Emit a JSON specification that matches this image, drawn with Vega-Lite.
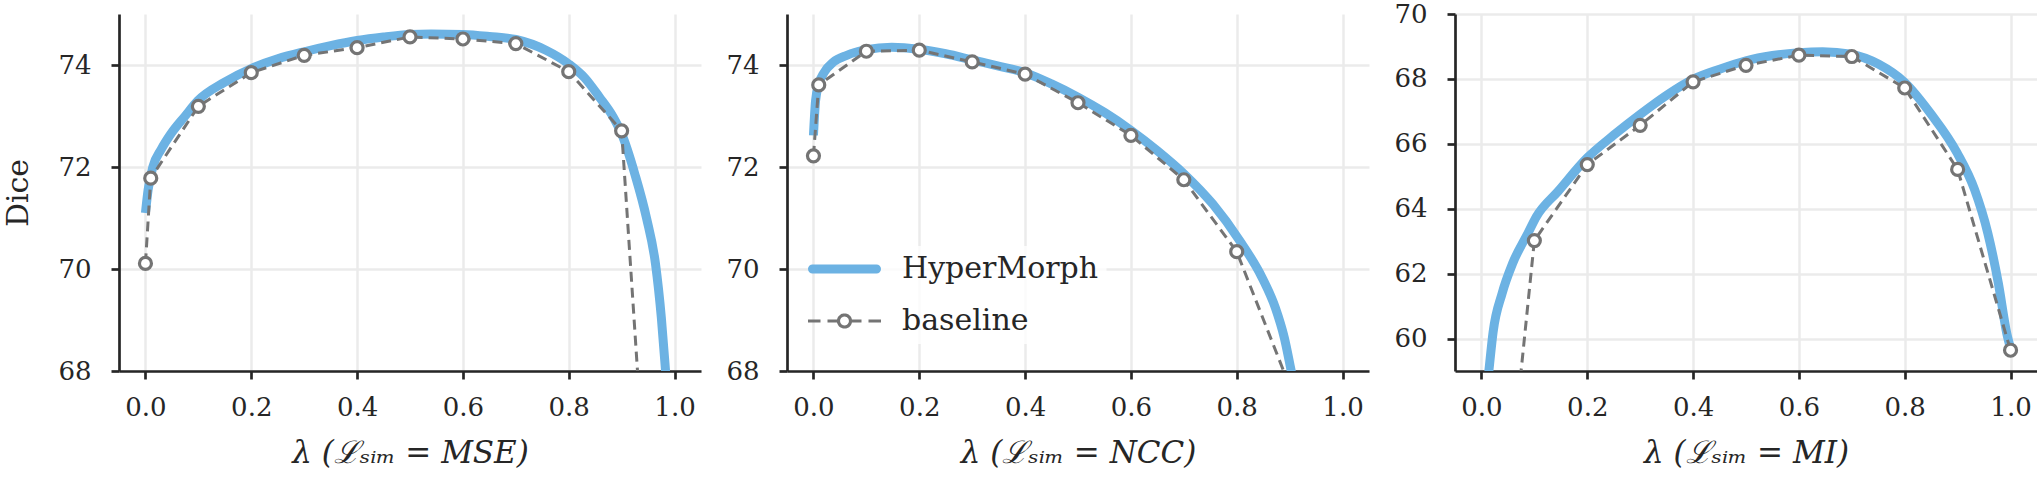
{
  "$schema": "https://vega.github.io/schema/vega-lite/v6.json",
  "background": "white",
  "padding": {"left": 3, "top": 1, "right": 0, "bottom": 0},
  "bounds": "flush",
  "spacing": 86,
  "config": {
    "view": {"stroke": null},
    "font": "DejaVu Serif",
    "axis": {
      "labelFont": "DejaVu Serif", "labelFontSize": 26, "labelColor": "#262626",
      "titleFont": "DejaVu Serif", "titleFontSize": 28, "titleColor": "#262626", "titleFontWeight": "normal",
      "domainColor": "#262626", "domainWidth": 2.7,
      "tickColor": "#262626", "tickWidth": 2.7, "tickSize": 8,
      "gridColor": "#ebebeb", "gridWidth": 2.5
    },
    "axisX": {"labelPadding": 15.5, "titlePadding": 18, "titleFontStyle": "italic", "titleFontSize": 31},
    "axisY": {"labelPadding": 20, "titlePadding": 24, "titleFontSize": 30}
  },
  "resolve": {"scale": {"color": "independent"}, "legend": {"color": "independent"}},
  "datasets": {
    "mse_hm": [
      {"lambda": 0.0, "dice": 71.1, "series": "HyperMorph"},
      {"lambda": 0.005, "dice": 71.55, "series": "HyperMorph"},
      {"lambda": 0.014, "dice": 72.0, "series": "HyperMorph"},
      {"lambda": 0.03, "dice": 72.35, "series": "HyperMorph"},
      {"lambda": 0.048, "dice": 72.65, "series": "HyperMorph"},
      {"lambda": 0.075, "dice": 73.0, "series": "HyperMorph"},
      {"lambda": 0.099, "dice": 73.3, "series": "HyperMorph"},
      {"lambda": 0.149, "dice": 73.66, "series": "HyperMorph"},
      {"lambda": 0.2, "dice": 73.93, "series": "HyperMorph"},
      {"lambda": 0.25, "dice": 74.12, "series": "HyperMorph"},
      {"lambda": 0.3, "dice": 74.26, "series": "HyperMorph"},
      {"lambda": 0.35, "dice": 74.38, "series": "HyperMorph"},
      {"lambda": 0.4, "dice": 74.48, "series": "HyperMorph"},
      {"lambda": 0.45, "dice": 74.55, "series": "HyperMorph"},
      {"lambda": 0.5, "dice": 74.6, "series": "HyperMorph"},
      {"lambda": 0.54, "dice": 74.61, "series": "HyperMorph"},
      {"lambda": 0.6, "dice": 74.6, "series": "HyperMorph"},
      {"lambda": 0.65, "dice": 74.56, "series": "HyperMorph"},
      {"lambda": 0.7, "dice": 74.5, "series": "HyperMorph"},
      {"lambda": 0.757, "dice": 74.29, "series": "HyperMorph"},
      {"lambda": 0.8, "dice": 74.02, "series": "HyperMorph"},
      {"lambda": 0.83, "dice": 73.75, "series": "HyperMorph"},
      {"lambda": 0.858, "dice": 73.37, "series": "HyperMorph"},
      {"lambda": 0.884, "dice": 72.98, "series": "HyperMorph"},
      {"lambda": 0.9, "dice": 72.65, "series": "HyperMorph"},
      {"lambda": 0.925, "dice": 71.86, "series": "HyperMorph"},
      {"lambda": 0.947, "dice": 71.0, "series": "HyperMorph"},
      {"lambda": 0.964, "dice": 70.1, "series": "HyperMorph"},
      {"lambda": 0.975, "dice": 69.05, "series": "HyperMorph"},
      {"lambda": 0.983, "dice": 68.0, "series": "HyperMorph"},
      {"lambda": 1.0, "dice": 65.5, "series": "HyperMorph"}
    ],
    "mse_bl": [
      {"lambda": 0.0, "dice": 70.11, "series": "baseline"},
      {"lambda": 0.01, "dice": 71.78, "series": "baseline"},
      {"lambda": 0.1, "dice": 73.19, "series": "baseline"},
      {"lambda": 0.2, "dice": 73.85, "series": "baseline"},
      {"lambda": 0.3, "dice": 74.19, "series": "baseline"},
      {"lambda": 0.4, "dice": 74.34, "series": "baseline"},
      {"lambda": 0.5, "dice": 74.55, "series": "baseline"},
      {"lambda": 0.6, "dice": 74.51, "series": "baseline"},
      {"lambda": 0.7, "dice": 74.42, "series": "baseline"},
      {"lambda": 0.8, "dice": 73.87, "series": "baseline"},
      {"lambda": 0.9, "dice": 72.71, "series": "baseline"},
      {"lambda": 1.0, "dice": 57.0, "series": "baseline"}
    ],
    "ncc_hm": [
      {"lambda": 0.0, "dice": 72.62, "series": "HyperMorph"},
      {"lambda": 0.004, "dice": 73.3, "series": "HyperMorph"},
      {"lambda": 0.01, "dice": 73.62, "series": "HyperMorph"},
      {"lambda": 0.02, "dice": 73.85, "series": "HyperMorph"},
      {"lambda": 0.038, "dice": 74.06, "series": "HyperMorph"},
      {"lambda": 0.063, "dice": 74.19, "series": "HyperMorph"},
      {"lambda": 0.1, "dice": 74.3, "series": "HyperMorph"},
      {"lambda": 0.148, "dice": 74.35, "series": "HyperMorph"},
      {"lambda": 0.2, "dice": 74.31, "series": "HyperMorph"},
      {"lambda": 0.25, "dice": 74.22, "series": "HyperMorph"},
      {"lambda": 0.3, "dice": 74.1, "series": "HyperMorph"},
      {"lambda": 0.35, "dice": 73.98, "series": "HyperMorph"},
      {"lambda": 0.4, "dice": 73.85, "series": "HyperMorph"},
      {"lambda": 0.45, "dice": 73.63, "series": "HyperMorph"},
      {"lambda": 0.5, "dice": 73.37, "series": "HyperMorph"},
      {"lambda": 0.55, "dice": 73.07, "series": "HyperMorph"},
      {"lambda": 0.6, "dice": 72.72, "series": "HyperMorph"},
      {"lambda": 0.65, "dice": 72.32, "series": "HyperMorph"},
      {"lambda": 0.7, "dice": 71.87, "series": "HyperMorph"},
      {"lambda": 0.755, "dice": 71.27, "series": "HyperMorph"},
      {"lambda": 0.806, "dice": 70.55, "series": "HyperMorph"},
      {"lambda": 0.848, "dice": 69.83, "series": "HyperMorph"},
      {"lambda": 0.873, "dice": 69.24, "series": "HyperMorph"},
      {"lambda": 0.89, "dice": 68.65, "series": "HyperMorph"},
      {"lambda": 0.903, "dice": 68.0, "series": "HyperMorph"},
      {"lambda": 0.95, "dice": 65.5, "series": "HyperMorph"},
      {"lambda": 1.0, "dice": 62.0, "series": "HyperMorph"}
    ],
    "ncc_bl": [
      {"lambda": 0.0, "dice": 72.22, "series": "baseline"},
      {"lambda": 0.01, "dice": 73.61, "series": "baseline"},
      {"lambda": 0.1, "dice": 74.27, "series": "baseline"},
      {"lambda": 0.2, "dice": 74.29, "series": "baseline"},
      {"lambda": 0.3, "dice": 74.06, "series": "baseline"},
      {"lambda": 0.4, "dice": 73.82, "series": "baseline"},
      {"lambda": 0.5, "dice": 73.26, "series": "baseline"},
      {"lambda": 0.6, "dice": 72.62, "series": "baseline"},
      {"lambda": 0.7, "dice": 71.75, "series": "baseline"},
      {"lambda": 0.8, "dice": 70.34, "series": "baseline"},
      {"lambda": 0.9, "dice": 67.7, "series": "baseline"}
    ],
    "mi_hm": [
      {"lambda": 0.0, "dice": 56.8, "series": "HyperMorph"},
      {"lambda": 0.014, "dice": 59.0, "series": "HyperMorph"},
      {"lambda": 0.022, "dice": 60.2, "series": "HyperMorph"},
      {"lambda": 0.039, "dice": 61.39, "series": "HyperMorph"},
      {"lambda": 0.059, "dice": 62.32, "series": "HyperMorph"},
      {"lambda": 0.088, "dice": 63.25, "series": "HyperMorph"},
      {"lambda": 0.104, "dice": 63.76, "series": "HyperMorph"},
      {"lambda": 0.145, "dice": 64.54, "series": "HyperMorph"},
      {"lambda": 0.2, "dice": 65.57, "series": "HyperMorph"},
      {"lambda": 0.25, "dice": 66.27, "series": "HyperMorph"},
      {"lambda": 0.3, "dice": 66.91, "series": "HyperMorph"},
      {"lambda": 0.35, "dice": 67.5, "series": "HyperMorph"},
      {"lambda": 0.4, "dice": 67.99, "series": "HyperMorph"},
      {"lambda": 0.45, "dice": 68.3, "series": "HyperMorph"},
      {"lambda": 0.5, "dice": 68.56, "series": "HyperMorph"},
      {"lambda": 0.55, "dice": 68.72, "series": "HyperMorph"},
      {"lambda": 0.6, "dice": 68.81, "series": "HyperMorph"},
      {"lambda": 0.645, "dice": 68.84, "series": "HyperMorph"},
      {"lambda": 0.698, "dice": 68.76, "series": "HyperMorph"},
      {"lambda": 0.751, "dice": 68.45, "series": "HyperMorph"},
      {"lambda": 0.8, "dice": 67.89, "series": "HyperMorph"},
      {"lambda": 0.85, "dice": 66.91, "series": "HyperMorph"},
      {"lambda": 0.899, "dice": 65.72, "series": "HyperMorph"},
      {"lambda": 0.932, "dice": 64.59, "series": "HyperMorph"},
      {"lambda": 0.957, "dice": 63.25, "series": "HyperMorph"},
      {"lambda": 0.977, "dice": 61.7, "series": "HyperMorph"},
      {"lambda": 0.993, "dice": 60.15, "series": "HyperMorph"},
      {"lambda": 1.0, "dice": 59.7, "series": "HyperMorph"}
    ],
    "mi_bl": [
      {"lambda": 0.0, "dice": 47.0, "series": "baseline"},
      {"lambda": 0.1, "dice": 63.02, "series": "baseline"},
      {"lambda": 0.2, "dice": 65.36, "series": "baseline"},
      {"lambda": 0.3, "dice": 66.57, "series": "baseline"},
      {"lambda": 0.4, "dice": 67.91, "series": "baseline"},
      {"lambda": 0.5, "dice": 68.42, "series": "baseline"},
      {"lambda": 0.6, "dice": 68.73, "series": "baseline"},
      {"lambda": 0.7, "dice": 68.69, "series": "baseline"},
      {"lambda": 0.8, "dice": 67.72, "series": "baseline"},
      {"lambda": 0.9, "dice": 65.21, "series": "baseline"},
      {"lambda": 1.0, "dice": 59.64, "series": "baseline"}
    ]
  },
  "hconcat": [
    {
      "width": 582, "height": 357,
      "layer": [
        {
          "data": {"name": "mse_hm"},
          "mark": {"type": "line", "interpolate": "monotone", "strokeWidth": 9, "clip": true, "color": "#6cb2e3"},
          "encoding": {
            "x": {"field": "lambda", "type": "quantitative", "scale": {"domain": [-0.05, 1.05], "nice": false, "zero": false}, "axis": {"values": [0, 0.2, 0.4, 0.6, 0.8, 1], "format": ".1f", "title": "λ (ℒₛᵢₘ = MSE)"}},
            "y": {"field": "dice", "type": "quantitative", "scale": {"domain": [68, 75], "nice": false, "zero": false}, "axis": {"values": [68, 70, 72, 74], "title": "Dice"}}
          }
        },
        {
          "data": {"name": "mse_bl"},
          "mark": {"type": "line", "strokeWidth": 3, "strokeDash": [10, 6], "clip": true, "color": "#747474"},
          "encoding": {
            "x": {"field": "lambda", "type": "quantitative"},
            "y": {"field": "dice", "type": "quantitative"}
          }
        },
        {
          "data": {"name": "mse_bl"},
          "mark": {"type": "point", "filled": false, "fill": "white", "fillOpacity": 1, "stroke": "#747474", "strokeWidth": 3.2, "size": 144, "opacity": 1, "clip": true},
          "encoding": {
            "x": {"field": "lambda", "type": "quantitative"},
            "y": {"field": "dice", "type": "quantitative"}
          }
        }
      ]
    },
    {
      "width": 582, "height": 357,
      "layer": [
        {
          "data": {"name": "ncc_hm"},
          "mark": {"type": "line", "interpolate": "monotone", "strokeWidth": 9, "clip": true},
          "encoding": {
            "x": {"field": "lambda", "type": "quantitative", "scale": {"domain": [-0.05, 1.05], "nice": false, "zero": false}, "axis": {"values": [0, 0.2, 0.4, 0.6, 0.8, 1], "format": ".1f", "title": "λ (ℒₛᵢₘ = NCC)"}},
            "y": {"field": "dice", "type": "quantitative", "scale": {"domain": [68, 75], "nice": false, "zero": false}, "axis": {"values": [68, 70, 72, 74], "title": null}},
            "color": {
              "field": "series", "type": "nominal",
              "scale": {"domain": ["HyperMorph", "baseline"], "range": ["#6cb2e3", "#747474"]},
              "legend": {
                "orient": "none", "legendX": 34.5, "legendY": 232, "title": null,
                "labelFont": "DejaVu Serif", "labelFontSize": 30, "labelColor": "#262626", "labelLimit": 0,
                "symbolSize": 1600, "labelOffset": 42.5, "rowPadding": 19, "padding": 8,
                "fillColor": "rgba(255,255,255,0.8)",
                "symbolType": "stroke",
                "encode": {
                  "symbols": {
                    "update": {
                      "shape": {"signal": "datum.value === 'baseline' ? 'M-1.825,0H-1.2M-0.85,0H-0.3M0.3,0H0.85M1.2,0H1.825M0.3,0A0.3,0.3,0,1,1,-0.3,0A0.3,0.3,0,1,1,0.3,0Z' : 'M-1.6,0H1.6'"},
                      "strokeWidth": {"signal": "datum.value === 'baseline' ? 3.2 : 9"},
                      "strokeDash": {"value": [1, 0]},
                      "strokeCap": {"signal": "datum.value === 'baseline' ? 'butt' : 'round'"},
                      "fill": {"signal": "datum.value === 'baseline' ? 'white' : 'transparent'"},
                      "fillOpacity": {"value": 1},
                      "opacity": {"value": 1}
                    }
                  }
                }
              }
            }
          }
        },
        {
          "data": {"name": "ncc_bl"},
          "mark": {"type": "line", "strokeWidth": 3, "strokeDash": [10, 6], "clip": true},
          "encoding": {
            "x": {"field": "lambda", "type": "quantitative"},
            "y": {"field": "dice", "type": "quantitative"},
            "color": {"field": "series", "type": "nominal"}
          }
        },
        {
          "data": {"name": "ncc_bl"},
          "mark": {"type": "point", "filled": false, "fill": "white", "fillOpacity": 1, "stroke": "#747474", "strokeWidth": 3.2, "size": 144, "opacity": 1, "clip": true},
          "encoding": {
            "x": {"field": "lambda", "type": "quantitative"},
            "y": {"field": "dice", "type": "quantitative"}
          }
        }
      ]
    },
    {
      "width": 582, "height": 357,
      "layer": [
        {
          "data": {"name": "mi_hm"},
          "mark": {"type": "line", "interpolate": "monotone", "strokeWidth": 9, "clip": true, "color": "#6cb2e3"},
          "encoding": {
            "x": {"field": "lambda", "type": "quantitative", "scale": {"domain": [-0.05, 1.05], "nice": false, "zero": false}, "axis": {"values": [0, 0.2, 0.4, 0.6, 0.8, 1], "format": ".1f", "title": "λ (ℒₛᵢₘ = MI)"}},
            "y": {"field": "dice", "type": "quantitative", "scale": {"domain": [59, 70], "nice": false, "zero": false}, "axis": {"values": [60, 62, 64, 66, 68, 70], "title": null}}
          }
        },
        {
          "data": {"name": "mi_bl"},
          "mark": {"type": "line", "strokeWidth": 3, "strokeDash": [10, 6], "clip": true, "color": "#747474"},
          "encoding": {
            "x": {"field": "lambda", "type": "quantitative"},
            "y": {"field": "dice", "type": "quantitative"}
          }
        },
        {
          "data": {"name": "mi_bl"},
          "mark": {"type": "point", "filled": false, "fill": "white", "fillOpacity": 1, "stroke": "#747474", "strokeWidth": 3.2, "size": 144, "opacity": 1, "clip": true},
          "encoding": {
            "x": {"field": "lambda", "type": "quantitative"},
            "y": {"field": "dice", "type": "quantitative"}
          }
        }
      ]
    }
  ]
}
